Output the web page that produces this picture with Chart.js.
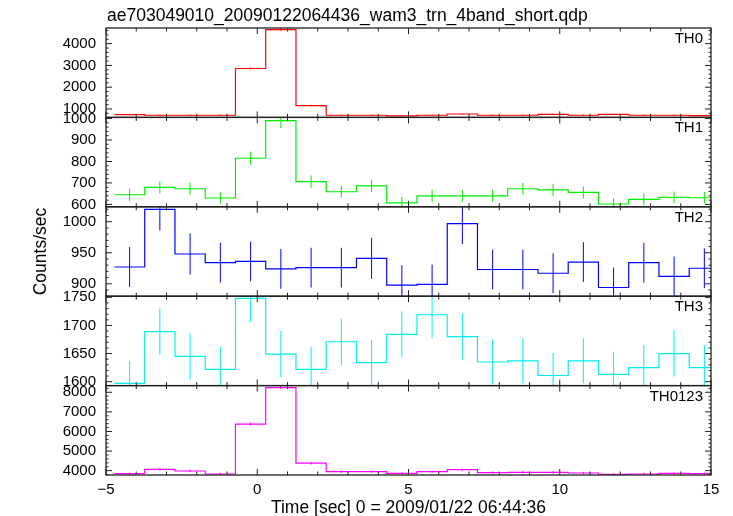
<!DOCTYPE html>
<html>
<head>
  <title>WAM TRN 4-band light curve</title>
  <script src="https://cdn.jsdelivr.net/npm/chart.js"></script>
  <style>
    body { margin: 0; background: #fff; }
    #wrap { width: 733px; height: 516px; }
  </style>
</head>
<body>
  <div id="wrap"><canvas id="lc" width="733" height="516"></canvas></div>
  <script>
    const fileName = 'ae703049010_20090122064436_wam3_trn_4band_short.qdp';
    const xTitle = 'Time [sec] 0 = 2009/01/22 06:44:36';
    const yTitle = 'Counts/sec';

    // bin centres (sec) and half width
    const binTimes = [-4.22, -3.22, -2.22, -1.22, -0.22, 0.78, 1.78, 2.78, 3.78, 4.78,
                      5.78, 6.78, 7.78, 8.78, 9.78, 10.78, 11.78, 12.78, 13.78, 14.78];
    const binHalf = 0.5;

    const bandNames = ['TH0', 'TH1', 'TH2', 'TH3', 'TH0123'];
    const bandColors = ['#ff0000', '#00ee00', '#0000ff', '#00eeee', '#ff00ff'];

    const th0Rate = [740, 712, 712, 712, 2860, 4645, 1155, 712, 712, 680,
                     712, 770, 712, 712, 755, 712, 755, 712, 712, 695];
    const th0Err = [27, 27, 27, 27, 54, 68, 34, 27, 27, 26,
                    27, 28, 27, 27, 27, 27, 27, 27, 27, 26];

    const th1Rate = [645, 679, 673, 630, 815, 990, 706, 659, 686, 607,
                     640, 640, 640, 673, 668, 656, 602, 624, 633, 631];
    const th1Err = [28, 28, 28, 27, 31, 34, 29, 28, 28, 27,
                    28, 28, 28, 28, 28, 28, 27, 27, 27, 27];

    const th2Rate = [927, 1020, 948, 934, 936, 924, 926, 926, 941, 898,
                     899, 997, 923, 923, 917, 935, 894, 934, 912, 925];
    const th2Err = [32, 34, 33, 32, 32, 32, 32, 32, 33, 32,
                    32, 33, 32, 32, 32, 32, 32, 32, 32, 32];

    const th3Rate = [1597, 1689, 1645, 1622, 1748, 1649, 1622, 1671, 1634, 1684,
                     1719, 1680, 1635, 1637, 1611, 1637, 1613, 1625, 1650, 1625];
    const th3Err = [40, 41, 41, 40, 42, 41, 40, 41, 40, 41,
                    41, 41, 40, 40, 40, 40, 40, 40, 41, 40];

    const th0123Rate = [3845, 4069, 3983, 3828, 6379, 8241, 4379, 3948, 3948, 3862,
                        3948, 4052, 3897, 3914, 3914, 3880, 3810, 3828, 3862, 3845];
    const th0123Err = [62, 64, 63, 62, 80, 91, 66, 63, 63, 62,
                       63, 64, 62, 63, 63, 62, 62, 62, 62, 62];

    const bandRates = [th0Rate, th1Rate, th2Rate, th3Rate, th0123Rate];
    const bandErrs = [th0Err, th1Err, th2Err, th3Err, th0123Err];

    const yRanges = [[613, 4719], [589, 1005], [880, 1024], [1593, 1752], [3778, 8341]];
    const yTicks = [
      [1000, 2000, 3000, 4000],
      [600, 700, 800, 900, 1000],
      [900, 950, 1000],
      [1600, 1650, 1700, 1750],
      [4000, 5000, 6000, 7000, 8000]
    ];
    const yMinorStep = [200, 20, 10, 10, 200];
    const xTicks = [-5, 0, 5, 10, 15];

    const font = "'Liberation Sans', Arial, sans-serif";

    // step outline: one point at each bin's left edge, last one closes the final bin
    function stepPoints(rate) {
      const pts = binTimes.map((t, i) => ({ x: t - binHalf, y: rate[i] }));
      pts.push({ x: binTimes[binTimes.length - 1] + binHalf, y: rate[rate.length - 1] });
      return pts;
    }

    // vertical error bars as separate line pieces, broken by null points
    function errPoints(rate, err) {
      const pts = [];
      binTimes.forEach((t, i) => {
        pts.push({ x: t, y: rate[i] - err[i] });
        pts.push({ x: t, y: rate[i] + err[i] });
        pts.push({ x: t, y: null });
      });
      return pts;
    }

    const datasets = [];
    bandNames.forEach((name, i) => {
      datasets.push({
        type: 'line',
        label: name,
        data: stepPoints(bandRates[i]),
        yAxisID: 'y' + i,
        stepped: 'before',
        borderColor: bandColors[i],
        borderWidth: 1.2,
        pointRadius: 0,
        fill: false,
        clip: 0
      });
      datasets.push({
        type: 'line',
        label: name + ' err',
        data: errPoints(bandRates[i], bandErrs[i]),
        yAxisID: 'y' + i,
        spanGaps: false,
        borderColor: bandColors[i],
        borderWidth: 1,
        pointRadius: 0,
        fill: false,
        clip: 0
      });
    });

    const scales = {
      x: {
        type: 'linear',
        position: 'bottom',
        min: -5,
        max: 15,
        offset: false,
        afterBuildTicks: s => { s.ticks = xTicks.map(v => ({ value: v })); },
        afterFit: s => { s.height = 41; },
        grid: { display: false, drawTicks: false },
        border: { display: false },
        ticks: {
          padding: 6,
          color: '#000',
          autoSkip: false,
          font: { family: font, size: 15 },
          maxRotation: 0,
          callback: v => String(v).replace('-', '\u2212')
        }
      }
    };
    bandNames.forEach((name, i) => {
      scales['y' + i] = {
        type: 'linear',
        position: 'left',
        stack: 'bands',
        stackWeight: 1,
        weight: 5 - i,
        min: yRanges[i][0],
        max: yRanges[i][1],
        afterBuildTicks: s => { s.ticks = yTicks[i].map(v => ({ value: v })); },
        afterFit: s => { s.width = 106; },
        grid: { display: false, drawTicks: false },
        border: { display: false },
        ticks: {
          padding: 10,
          color: '#000',
          autoSkip: false,
          font: { family: font, size: 15 },
          callback: v => String(v)
        }
      };
    });

    // frames, inward ticks, panel names and titles in QDP style
    const qdpFrame = {
      id: 'qdpFrame',
      afterDraw(chart) {
        const ctx = chart.ctx;
        const xs = chart.scales.x;
        ctx.save();
        ctx.strokeStyle = '#222';
        const seg = (x1, y1, x2, y2) => { ctx.beginPath(); ctx.moveTo(x1, y1); ctx.lineTo(x2, y2); ctx.stroke(); };
        bandNames.forEach((name, i) => {
          const ys = chart.scales['y' + i];
          ctx.lineWidth = 1.3;
          ctx.strokeRect(xs.left, ys.top, xs.right - xs.left, ys.bottom - ys.top);
          ctx.lineWidth = 1;
          for (let v = -5; v <= 15; v++) {
            const px = xs.getPixelForValue(v);
            const len = v % 5 === 0 ? 6 : 3.5;
            seg(px, ys.top, px, ys.top + len);
            seg(px, ys.bottom, px, ys.bottom - len);
          }
          const step = yMinorStep[i];
          for (let v = Math.ceil(ys.min / step) * step; v <= ys.max; v += step) {
            const py = ys.getPixelForValue(v);
            const len = yTicks[i].includes(v) ? 6 : 2.5;
            seg(xs.left, py, xs.left + len, py);
            seg(xs.right, py, xs.right - len, py);
          }
          ctx.fillStyle = '#000';
          ctx.font = '15px ' + font;
          ctx.textAlign = 'right';
          ctx.textBaseline = 'alphabetic';
          ctx.fillText(name, xs.right - 8, ys.top + 15);
        });
        ctx.fillStyle = '#000';
        ctx.font = '17.5px ' + font;
        ctx.textAlign = 'left';
        ctx.textBaseline = 'alphabetic';
        ctx.fillText(fileName, 107, 21);
        ctx.textAlign = 'center';
        ctx.fillText(xTitle, (xs.left + xs.right) / 2, 513);
        ctx.translate(46, (chart.chartArea.top + chart.chartArea.bottom) / 2);
        ctx.rotate(-Math.PI / 2);
        ctx.fillText(yTitle, 0, 0);
        ctx.restore();
      }
    };

    new Chart(document.getElementById('lc'), {
      data: { datasets: datasets },
      options: {
        responsive: false,
        animation: false,
        layout: { padding: { top: 28, right: 22, left: 0, bottom: 0 } },
        plugins: { legend: { display: false }, tooltip: { enabled: false } },
        scales: scales
      },
      plugins: [qdpFrame]
    });
  </script>
</body>
</html>
